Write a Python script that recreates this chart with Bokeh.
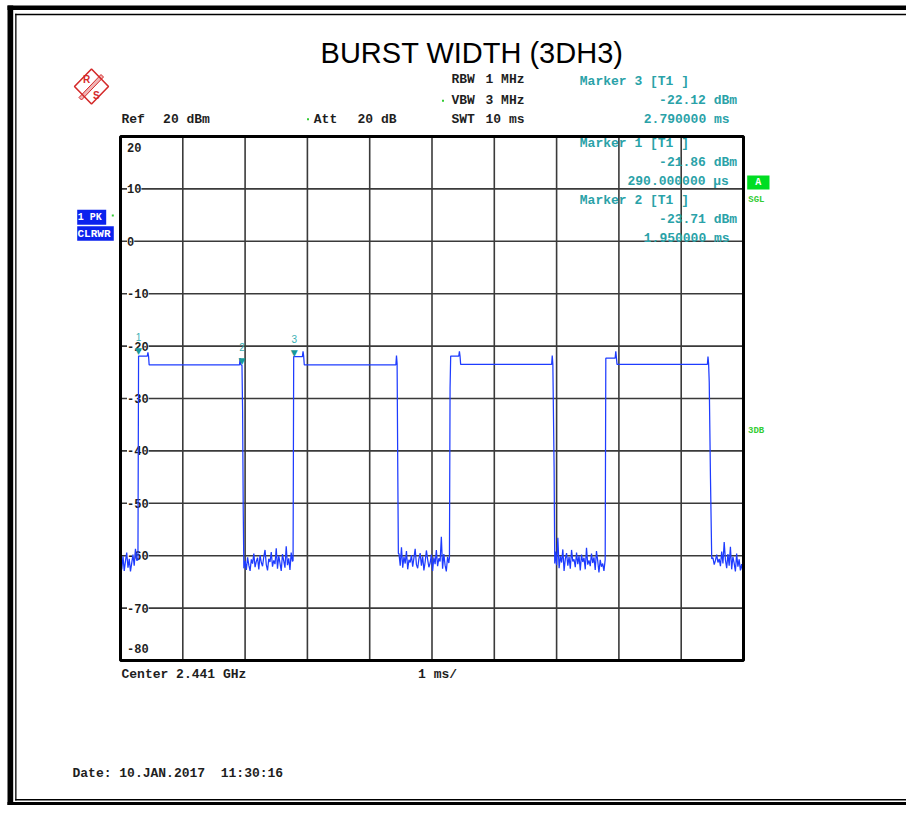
from bokeh.plotting import figure
from bokeh.models import Range1d, Label, ColumnDataSource
from bokeh.core.properties import value
from bokeh.embed import file_html
from bokeh.resources import INLINE

# ------------------------------------------------------------------ data
title_text = "BURST WIDTH (3DH3)"
x_ticks_ms = [0, 1, 2, 3, 4, 5, 6, 7, 8, 9, 10]
y_ticks_dbm = [20, 10, 0, -10, -20, -30, -40, -50, -60, -70, -80]
y_tick_labels = ["20", "10", "0", "-10", "-20", "-30", "-40", "-50", "-60", "-70", "-80"]

sweep_step_ms = 0.02
noise_start_ms = [0.00, 1.98, 4.47, 6.98, 9.51]
noise_a = [-61.2, -62.6, -60.1, -62.9, -61.0, -59.4, -62.3, -60.6, -63.0, -61.4, -59.8, -61.9, -58.7, -60.9]
noise_b = [-62.4, -61.0, -62.7, -60.3, -61.8, -62.9, -60.7, -61.5, -59.6, -62.2, -61.1, -60.4, -62.6, -59.9,
           -61.3, -62.0, -60.2, -58.9, -61.7, -62.8, -60.6, -61.2, -59.3, -62.1, -60.9, -61.6, -58.6, -62.5,
           -60.0, -61.4, -62.9, -59.7, -61.0, -62.3, -58.2, -61.8, -60.5, -62.7, -59.4, -61.1]
noise_c = [-59.6, -61.9, -58.4, -62.3, -60.2, -61.5, -59.1, -62.6, -60.8, -61.3, -59.9, -62.1, -60.4, -58.7,
           -61.7, -62.4, -60.6, -59.5, -61.9, -60.1, -62.8, -61.2, -59.0, -60.7, -62.2, -61.4, -59.8, -62.9,
           -60.3, -61.6, -58.9, -62.0, -60.5, -61.1, -56.4, -62.5, -59.7, -61.8, -63.0, -60.2, -61.4]
noise_d = [-59.2, -61.8, -56.6, -62.4, -60.1, -61.3, -58.8, -62.9, -60.6, -59.5, -61.9, -60.2, -62.5, -58.9,
           -61.1, -60.7, -62.2, -59.4, -61.6, -60.0, -62.8, -59.8, -61.2, -60.4, -62.6, -58.5, -61.7, -60.9,
           -62.0, -59.6, -61.4, -60.3, -62.7, -59.1, -61.0, -63.2, -60.8, -62.1, -61.5, -62.9]
noise_e = [-60.4, -61.7, -60.9, -59.8, -61.3, -60.6, -62.0, -59.2, -61.5, -57.4, -60.8, -62.4, -59.7, -61.9,
           -58.3, -62.6, -60.2, -61.4, -63.0, -59.6, -62.1, -60.7, -62.8, -61.6, -63.1]

burst1_t = [0.28, 0.29, 0.43, 0.44, 0.45, 0.46, 1.91, 1.92, 1.93, 1.95, 1.96, 1.97]
burst1_dbm = [-60.8, -21.9, -21.9, -21.2, -21.9, -23.6, -23.6, -22.3, -23.5, -23.7, -32.3, -51.4]
burst2_t = [2.77, 2.78, 2.92, 2.93, 2.94, 2.95, 4.42, 4.43, 4.44, 4.45, 4.46]
burst2_dbm = [-60.9, -22.0, -22.0, -21.0, -21.9, -23.6, -23.6, -21.8, -23.4, -42.6, -59.6]
burst3_t = [5.28, 5.29, 5.30, 5.43, 5.44, 5.45, 5.46, 6.92, 6.93, 6.94, 6.96, 6.97]
burst3_dbm = [-60.4, -28.0, -21.9, -21.9, -21.0, -21.9, -23.5, -23.5, -21.8, -23.5, -43.1, -61.5]
burst4_t = [7.78, 7.79, 7.94, 7.95, 7.96, 7.97, 9.42, 9.43, 9.44, 9.45, 9.47, 9.49]
burst4_dbm = [-60.7, -22.3, -22.3, -21.0, -22.2, -23.5, -23.5, -22.0, -23.4, -26.9, -45.3, -60.6]

marker_t = [0.29, 1.95, 2.79]
marker_dbm = [-21.86, -23.71, -22.12]
marker_id = ["1", "2", "3"]

# ------------------------------------------------------------------ assemble trace
noises = [noise_a, noise_b, noise_c, noise_d, noise_e]
bursts = [(burst1_t, burst1_dbm), (burst2_t, burst2_dbm), (burst3_t, burst3_dbm), (burst4_t, burst4_dbm)]
trace_t, trace_dbm = [], []
for i, nz in enumerate(noises):
    t0 = noise_start_ms[i]
    trace_t += [round(t0 + k * sweep_step_ms, 3) for k in range(len(nz))]
    trace_dbm += nz
    if i < len(bursts):
        trace_t += bursts[i][0]
        trace_dbm += bursts[i][1]

# ------------------------------------------------------------------ layout geometry (canvas pixels)
W, H = 906, 805
FL, FT, FR, FB = 120, 136, 743, 660   # measurement frame box
X0, X1 = x_ticks_ms[0], x_ticks_ms[-1]
Y0, Y1 = y_ticks_dbm[-1], y_ticks_dbm[0]
ms_per_px = (X1 - X0) / (FR - FL)
db_per_px = (Y1 - Y0) / (FB - FT)

p = figure(width=W, height=H, x_range=Range1d(0, W), y_range=Range1d(H, 0),
           x_axis_location=None, y_axis_location=None, toolbar_location=None,
           output_backend="svg", min_border=0,
           min_border_left=0, min_border_right=0, min_border_top=0, min_border_bottom=0)
p.extra_x_ranges = {"ms": Range1d(X0 - FL * ms_per_px, X1 + (W - FR) * ms_per_px)}
p.extra_y_ranges = {"dbm": Range1d(Y0 - (H - FB) * db_per_px, Y1 + FT * db_per_px)}
p.background_fill_color = "white"
p.border_fill_color = "white"
p.outline_line_color = None
p.center = []
DR = dict(x_range_name="ms", y_range_name="dbm")

MONO = "Liberation Mono"
DARK = "#1e1e1e"
TEAL = "#2aa2a8"
GREEN = "#33cc33"
NBSP = "\u00a0"


def lab(text, X, Y, color=DARK, size="13px", style="bold", align="left", baseline="middle", font=MONO):
    p.add_layout(Label(x=X, y=Y, text=text.replace("  ", NBSP + NBSP), text_color=color,
                       text_font_size=size, text_font_style=style, text_align=align,
                       text_baseline=baseline, text_font=font))


def box(xa, ya, xb, yb, color):
    p.quad(left=xa, right=xb, top=ya, bottom=yb, fill_color=color, line_color=None)


# page border
box(7, 5, W, 9.4, "black")
box(7, 5, 12.7, H, "black")
box(14.7, 13.3, W, 14.7, "black")
box(14.7, 13.3, 16, 800, "black")
box(14.7, 798.6, W, 800, "black")
box(7, 801.6, W, H, "black")

# grid and frame, in measurement units
p.segment(x0=x_ticks_ms, y0=[Y0] * len(x_ticks_ms), x1=x_ticks_ms, y1=[Y1] * len(x_ticks_ms),
          line_color="#3a3a3a", line_width=1.6, **DR)
p.segment(x0=[X0] * len(y_ticks_dbm), y0=y_ticks_dbm, x1=[X1] * len(y_ticks_dbm), y1=y_ticks_dbm,
          line_color="#3a3a3a", line_width=1.6, **DR)

# y tick labels inside the frame (below the trace)
tick_off = [10.7 if v == Y1 else (-12.3 if v == Y0 else 0) for v in y_ticks_dbm]
tsrc = ColumnDataSource(dict(x=[X0] * len(y_ticks_dbm), y=y_ticks_dbm, t=y_tick_labels, off=tick_off))
p.text("x", "y", text="t", source=tsrc, x_offset=6.5, y_offset="off", text_color=DARK,
       text_font=value(MONO), text_font_size="12px", text_font_style="bold", text_align="left",
       text_baseline="middle", background_fill_color="white", **DR)

# trace
src = ColumnDataSource(dict(t=trace_t, dbm=trace_dbm))
p.line("t", "dbm", source=src, line_color="#1e3cff", line_width=1.25, **DR)

# frame outline
p.quad(left=[X0], right=[X1], bottom=[Y0], top=[Y1], fill_color=None, line_color="black",
       line_width=3, **DR)

# markers
msrc = ColumnDataSource(dict(t=marker_t, dbm=marker_dbm, id=marker_id, tri=["\u25bc"] * len(marker_t)))
p.text("t", "dbm", text="tri", source=msrc, text_color="#17999a", text_font=value("DejaVu Sans"),
       text_font_size="9px", text_align="center", text_baseline="middle", y_offset=-4.5, **DR)
p.text("t", "dbm", text="id", source=msrc, text_color="#39b0b4", text_font=value("Liberation Sans"),
       text_font_size="10px", text_align="center", text_baseline="middle", y_offset=-18.5, **DR)

# title
lab(title_text, 471.5, 52.5, color="black", size="29px", style="normal", align="center",
    baseline="middle", font="Liberation Sans")

# logo
RED = "#d42a2a"
p.patch([91, 108, 91, 74, 91], [68.5, 86, 103.5, 86, 68.5], fill_color=None, line_color=RED, line_width=1.6)
p.patch([78.5, 100.5, 103, 81], [97, 74, 76.5, 99.5], fill_color=RED, fill_alpha=0.35, line_color=RED,
        line_width=1)
lab("R", 82.5, 79, color=RED, size="10px", font="Liberation Sans")
lab("S", 92.5, 95, color=RED, size="10px", font="Liberation Sans")

# instrument settings
lab("Ref", 121, 118.7)
lab("20 dBm", 162.6, 118.7)
box(306.5, 117.7, 308.5, 119.7, GREEN)
lab("Att", 313.3, 118.7)
lab("20 dB", 357, 118.7)
lab("RBW", 451, 79.3)
lab("1 MHz", 485, 79.3)
box(441.5, 99.3, 443.5, 101.3, GREEN)
lab("VBW", 451, 100.3)
lab("3 MHz", 485, 100.3)
lab("SWT", 451, 118.7)
lab("10 ms", 485, 118.7)

# marker readouts
lab("Marker 3 [T1 ]", 579.3, 80.5, color=TEAL)
lab("-22.12 dBm", 658.6, 100.3, color=TEAL)
lab("2.790000 ms", 643.3, 118.7, color=TEAL)
lab("Marker 1 [T1 ]", 579.3, 143.3, color=TEAL)
lab("-21.86 dBm", 658.6, 162, color=TEAL)
lab("290.000000 \u00b5s", 627, 181, color=TEAL)
lab("Marker 2 [T1 ]", 579.3, 200, color=TEAL)
lab("-23.71 dBm", 658.6, 219, color=TEAL)
lab("1.950000 ms", 643.3, 237.7, color=TEAL)

# right side status
box(746.7, 175, 769, 189, "#00dd22")
lab("A", 757.8, 182.3, color="white", size="10px", align="center")
lab("SGL", 747.8, 199.3, color=GREEN, size="9px")
lab("3DB", 747.5, 430.7, color=GREEN, size="9px")

# left side trace info
BLUE = "#0b22ee"
box(76.7, 209.3, 105.7, 224.3, BLUE)
lab("1 PK", 77.3, 217, color="white", size="10px")
box(111.3, 214, 113.3, 216, GREEN)
box(76.7, 225.7, 113.3, 240.3, BLUE)
lab("CLRWR", 77.0, 233.3, color="white", size="11px")

# bottom texts
lab("Center 2.441 GHz", 121, 674.3)
lab("1 ms/", 417.6, 674.3)
lab("Date: 10.JAN.2017  11:30:16", 72, 772.7)

open("out.html", "w").write(file_html(p, INLINE))
